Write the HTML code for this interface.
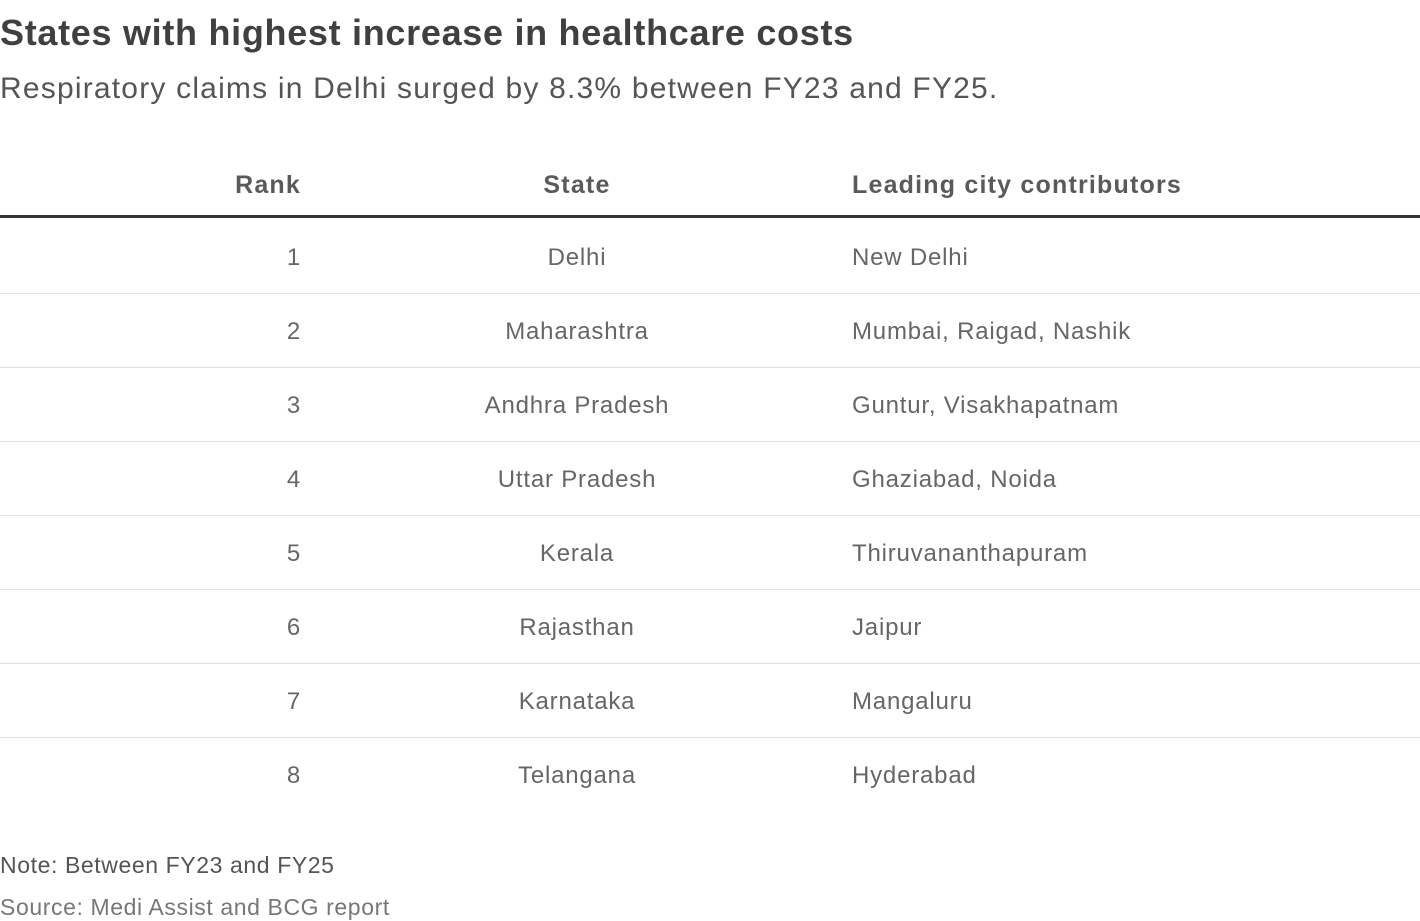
<!DOCTYPE html>
<html><head><meta charset="utf-8">
<style>
html,body{margin:0;padding:0;background:#fff;width:1420px;height:916px;overflow:hidden;font-family:"Liberation Sans",sans-serif;}
.abs{position:absolute;white-space:nowrap;}
#title{left:0;top:12px;font-size:36px;font-weight:bold;color:#404040;letter-spacing:0.7px}
#sub{left:0;top:72px;font-size:30px;color:#555;letter-spacing:1.2px}
.hd{top:171px;font-size:25px;font-weight:bold;color:#5a5a5a;letter-spacing:1.2px}
.cell{font-size:24px;color:#666;line-height:30px;letter-spacing:0.8px}
.rank{right:1119px;text-align:right}
.state{left:577px;transform:translateX(-50%)}
.city{left:852px}
.line{position:absolute;left:0;width:1420px;height:1px;background:#e0e0e0}
#note{left:0;top:852px;font-size:23px;color:#555;letter-spacing:0.6px}
#src{left:0;top:894px;font-size:23px;color:#777;letter-spacing:0.6px}
</style></head><body>
<div class="abs" id="title">States with highest increase in healthcare costs</div>
<div class="abs" id="sub">Respiratory claims in Delhi surged by 8.3% between FY23 and FY25.</div>
<div class="abs hd rank">Rank</div>
<div class="abs hd state">State</div>
<div class="abs hd city">Leading city contributors</div>
<div class="line" style="top:215px;height:3px;background:#333"></div>
<div id="rows"></div>
<div class="abs" id="note">Note: Between FY23 and FY25</div>
<div class="abs" id="src">Source: Medi Assist and BCG report</div>
<script>
const ranks=[1,2,3,4,5,6,7,8];
const states=["Delhi","Maharashtra","Andhra Pradesh","Uttar Pradesh","Kerala","Rajasthan","Karnataka","Telangana"];
const cities=["New Delhi","Mumbai, Raigad, Nashik","Guntur, Visakhapatnam","Ghaziabad, Noida","Thiruvananthapuram","Jaipur","Mangaluru","Hyderabad"];
const host=document.getElementById('rows');
for(let i=0;i<ranks.length;i++){
  const cy=257+i*74;
  const r=document.createElement('div');r.className='abs cell rank';r.style.top=(cy-14)+'px';r.textContent=ranks[i];
  
  
  host.appendChild(r);
  const s=document.createElement('div');s.className='abs cell state';s.style.top=(cy-14)+'px';s.textContent=states[i];
  
  
  host.appendChild(s);
  const c=document.createElement('div');c.className='abs cell city';c.style.top=(cy-14)+'px';c.textContent=cities[i];
  
  
  host.appendChild(c);
  if(i<ranks.length-1){
    const l=document.createElement('div');l.className='line';l.style.top=(cy+36)+'px';
    
    
    host.appendChild(l);
  }
}
</script>
</body></html>
